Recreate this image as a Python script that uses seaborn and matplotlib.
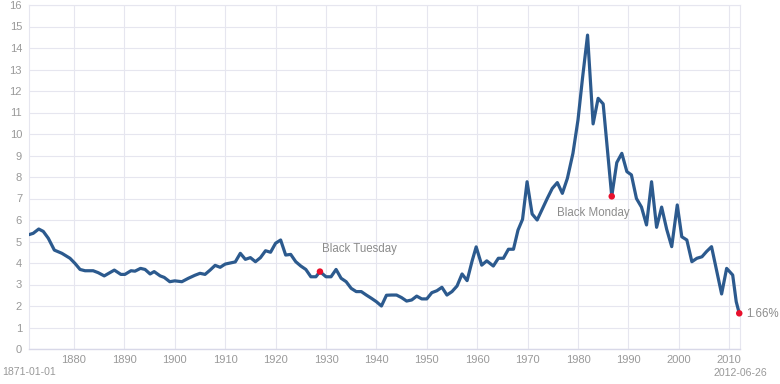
import matplotlib
matplotlib.use("Agg")
import matplotlib.pyplot as plt
import pandas as pd
import seaborn as sns

# long-term interest rate (%)
years = [
    1871.07, 1871.9, 1873.0, 1873.9, 1874.9, 1876.1, 1877.6, 1879.2, 1880.2, 1881.2,
    1882.2, 1883.8, 1884.8, 1886.0, 1888.0, 1889.3, 1890.1, 1891.3, 1892.1, 1893.2,
    1894.1, 1895.1, 1895.9, 1897.1, 1897.9, 1899.0, 1900.0, 1901.4, 1902.7, 1904.0,
    1905.0, 1906.0, 1907.0, 1908.0, 1909.0, 1910.0, 1911.0, 1912.0, 1913.0, 1914.0,
    1915.0, 1916.0, 1917.0, 1918.0, 1919.0, 1920.0, 1921.0, 1922.0, 1923.0, 1924.0,
    1925.0, 1926.0, 1927.0, 1928.0, 1928.8, 1930.0, 1931.0, 1932.0, 1933.0, 1934.0,
    1935.0, 1936.0, 1937.0, 1938.0, 1939.0, 1940.0, 1941.0, 1942.0, 1943.0, 1944.0,
    1945.0, 1946.0, 1947.0, 1948.0, 1949.0, 1950.0, 1951.0, 1952.0, 1953.0, 1954.0,
    1955.0, 1956.0, 1957.0, 1958.0, 1959.0, 1959.8, 1960.9, 1961.9, 1963.2, 1964.2,
    1965.2, 1966.2, 1967.2, 1968.1, 1969.0, 1969.9, 1970.9, 1971.9, 1972.9, 1973.9,
    1974.9, 1975.9, 1976.9, 1977.9, 1979.0, 1980.0, 1980.9, 1981.9, 1983.0, 1984.0,
    1985.0, 1986.7, 1987.7, 1988.7, 1989.7, 1990.6, 1991.6, 1992.6, 1993.6, 1994.6,
    1995.6, 1996.6, 1997.6, 1998.6, 1999.7, 2000.6, 2001.6, 2002.6, 2003.6, 2004.6,
    2005.5, 2006.5, 2007.5, 2008.5, 2009.5, 2010.7, 2011.4, 2012.0,
]
rates = [
    5.32, 5.38, 5.58, 5.47, 5.15, 4.60, 4.45, 4.22, 3.98, 3.70,
    3.64, 3.64, 3.55, 3.40, 3.67, 3.47, 3.47, 3.64, 3.62, 3.75,
    3.70, 3.49, 3.60, 3.40, 3.33, 3.13, 3.17, 3.13, 3.29, 3.43,
    3.52, 3.47, 3.67, 3.89, 3.80, 3.95, 4.00, 4.05, 4.45, 4.17,
    4.25, 4.06, 4.25, 4.57, 4.50, 4.92, 5.07, 4.37, 4.40, 4.06,
    3.86, 3.70, 3.36, 3.36, 3.60, 3.36, 3.36, 3.70, 3.29, 3.13,
    2.82, 2.67, 2.67, 2.51, 2.36, 2.20, 2.00, 2.50, 2.51, 2.51,
    2.39, 2.23, 2.28, 2.46, 2.33, 2.33, 2.62, 2.71, 2.87, 2.51,
    2.67, 2.93, 3.49, 3.18, 4.10, 4.75, 3.90, 4.10, 3.86, 4.22,
    4.22, 4.64, 4.64, 5.53, 6.03, 7.78, 6.28, 6.00, 6.50, 7.00,
    7.47, 7.74, 7.24, 7.94, 9.10, 10.65, 12.60, 14.60, 10.47, 11.66,
    11.40, 7.10, 8.67, 9.10, 8.25, 8.10, 7.00, 6.60, 5.77, 7.78,
    5.66, 6.60, 5.57, 4.76, 6.70, 5.22, 5.07, 4.06, 4.22, 4.29,
    4.53, 4.76, 3.67, 2.56, 3.75, 3.44, 2.20, 1.66,
]

event_years = [1928.8, 1986.7, 2012.0]
event_rates = [3.60, 7.10, 1.66]
event_labels = ["Black Tuesday", "Black Monday", "1.66%"]

x_ticks = list(range(1880, 2011, 10))
y_ticks = list(range(0, 17))
start_label = "1871-01-01"
end_label = "2012-06-26"

df = pd.DataFrame({"year": years, "rate": rates})
events = pd.DataFrame({"year": event_years, "rate": event_rates, "label": event_labels})

sns.set_style("white")
plt.rcParams["font.family"] = ["Liberation Sans", "DejaVu Sans"]

grid_col = "#e6e6ef"
text_col = "#999999"

fig = plt.figure(figsize=(7.8, 3.84), dpi=100)
ax = fig.add_axes([29 / 780, 1 - 349 / 384, (739.5 - 29) / 780, (349 - 5) / 384])

sns.lineplot(data=df, x="year", y="rate", ax=ax, color="#2c5a8e", linewidth=2.3,
             solid_capstyle="round", solid_joinstyle="round", zorder=3)
sns.scatterplot(data=events, x="year", y="rate", ax=ax, color="#e8102c", s=22,
                edgecolor="none", zorder=4, clip_on=False)

# event labels
offsets = [(2, 23, "left"), (-18, -17, "center"), (7, -1, "left")]
for (_, row), (dx, dy, ha) in zip(events.iterrows(), offsets):
    ax.annotate(row["label"], (row["year"], row["rate"]), xytext=(dx, dy),
                textcoords="offset pixels", ha=ha, va="center", fontsize=8.3,
                color="#8c8c8c", annotation_clip=False)

ax.set_xlim(1871.07, 2012.05)
ax.set_ylim(0, 16)
ax.set_xticks(x_ticks)
ax.set_yticks(y_ticks)
ax.grid(True, color=grid_col, linewidth=0.8)
ax.set_axisbelow(True)
ax.tick_params(axis="both", length=0, labelsize=8, labelcolor=text_col)
ax.tick_params(axis="x", pad=4)
ax.tick_params(axis="y", pad=5)
ax.set_xlabel("")
ax.set_ylabel("")
for side in ["top", "right", "left"]:
    ax.spines[side].set_color(grid_col)
    ax.spines[side].set_linewidth(0.8)
ax.spines["bottom"].set_color("#d8d8e8")
ax.spines["bottom"].set_linewidth(1.0)

fig.text(2 / 780, 1 - 372 / 384, start_label, ha="left", va="center",
         fontsize=7.6, color=text_col)
fig.text(767 / 780, 1 - 373 / 384, end_label, ha="right", va="center",
         fontsize=7.6, color=text_col)

fig.savefig("out.png", dpi=100)
